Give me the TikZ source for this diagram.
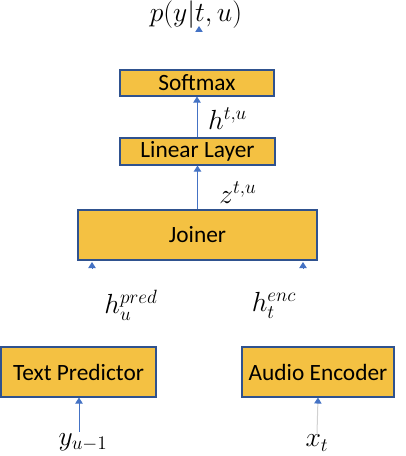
\documentclass[tikz,border=0pt]{standalone}
\usepackage{fontspec}
\setmainfont{Carlito}
\usetikzlibrary{arrows.meta}
\definecolor{boxfill}{HTML}{F4C142}
\definecolor{boxline}{HTML}{2F528F}
\definecolor{linkblue}{HTML}{4472C4}
\begin{document}
\begin{tikzpicture}[x=0.75pt, y=-0.75pt, >={Triangle[width=5.5pt, length=4.5pt]},
	block/.style={draw=boxline, fill=boxfill, line width=0.8pt, inner sep=0pt, font=\fontsize{17.5}{20}\selectfont},
	link/.style={->, draw=linkblue, line width=0.75pt},
	fadelink/.style={-{Triangle[width=5.5pt, length=4.5pt, linkblue]}, draw=black!18, line width=0.75pt},
	lbl/.style={font=\fontsize{20}{24}\selectfont, inner sep=1pt}]
	\useasboundingbox (0,0) rectangle (406,456);
	% boxes
	\node[block, minimum width=115.5pt, minimum height=19.5pt] (softmax) at (197,83) {Softmax};
	\node[block, minimum width=116.25pt, minimum height=20.25pt] (linear) at (197.5,151.5) {Linear Layer};
	\node[block, minimum width=179.25pt, minimum height=37.5pt] (joiner) at (197.5,235) {Joiner};
	\node[block, minimum width=116.25pt, minimum height=37.5pt] (pred) at (78.5,372) {Text Predictor};
	\node[block, minimum width=114pt, minimum height=37.5pt] (enc) at (318,372) {Audio Encoder};
	% labels
	\node[lbl] (out) at (196,14.5) {$p(y|t,u)$};
	\node[lbl] (hpred) at (131,305) {$h_u^{pred}$};
	\node[lbl] (henc) at (274,305) {$h_t^{enc}$};
	\node[lbl] (yin) at (83,442) {$y_{u-1}$};
	\node[lbl] (xin) at (317,443) {$x_t$};
	% arrows
	\draw[link] (linear.north -| softmax.south) -- (softmax.south) node[lbl, right, pos=.45, xshift=7pt] (hlbl) {$h^{t,u}$};
	\draw[link] (joiner.north) -- (linear.south) node[lbl, right, pos=.45, xshift=15pt, yshift=-2pt] (zlbl) {$z^{t,u}$};
	\draw[link] (yin.north -| 79,0) -- (pred.south -| 79,0);
	\draw[fadelink] (xin.north) -- (enc.south);
	% lone tips
	\coordinate (outbase) at (199,31);
	\coordinate (outtip) at (199,26);
	\coordinate (lbase) at (92,268);
	\coordinate (ltip) at (92,262);
	\coordinate (rbase) at (303,268);
	\coordinate (rtip) at (303,262);
	\draw[link] (outbase) -- (outtip);
	\draw[link] (lbase) -- (ltip);
	\draw[link] (rbase) -- (rtip);
\end{tikzpicture}
\end{document}
